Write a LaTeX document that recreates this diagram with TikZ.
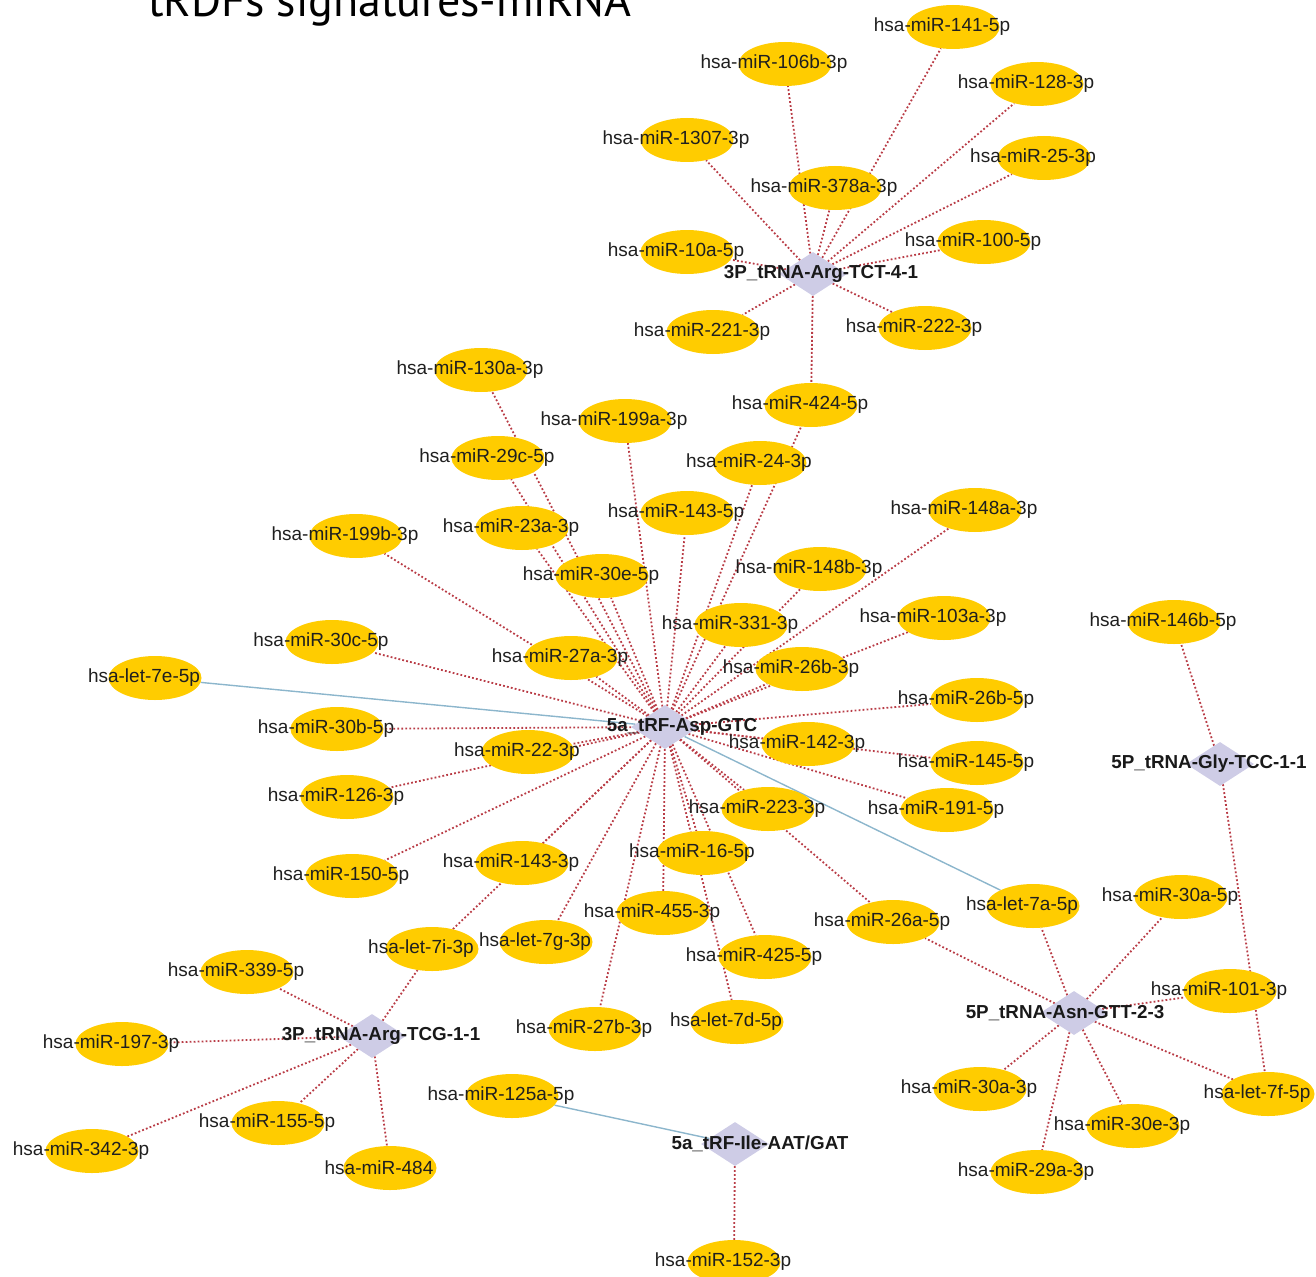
\documentclass[tikz,border=0pt]{standalone}
\usepackage{fontspec}
\setmainfont{Liberation Sans}
\newfontfamily\titlefont{PT Sans}
\usetikzlibrary{shapes.geometric,backgrounds}
\definecolor{miryel}{RGB}{255,204,0}
\definecolor{hubcol}{RGB}{206,204,230}
\definecolor{dotred}{RGB}{185,60,70}
\definecolor{bluel}{RGB}{140,182,204}
\tikzset{
 mir/.style={ellipse, fill=miryel, draw=none, minimum width=93pt, minimum height=44pt, inner sep=0pt, label={[mirlbl]center:#1}},
 mirlbl/.style={xshift=-11pt, font=\fontsize{19}{21}\selectfont, text=black!88, inner sep=0pt},
 hub/.style={diamond, fill=hubcol, draw=none, minimum width=68pt, minimum height=44pt, inner sep=0pt},
 hublbl/.style={font=\bfseries\fontsize{18.8}{21}\selectfont, text=black!90, inner sep=0pt},
 rd/.style={draw=dotred, line width=1.8pt, dash pattern=on 1.8pt off 2.2pt},
 bl/.style={draw=bluel, line width=1.4pt},
}
\begin{document}
\begin{tikzpicture}[x=1pt,y=-1pt]
\useasboundingbox (0,0) rectangle (1316,1276);
\node[anchor=base west, font=\titlefont\fontsize{46}{50}\selectfont, inner sep=0pt] (title) at (148,17) {tRDFs signatures-miRNA};
% hubs
\node[hub, label={[hublbl,xshift=8pt]center:3P\_tRNA-Arg-TCT-4-1}] (tct) at (813,274) {};
\node[hub, label={[hublbl,xshift=17pt]center:5a\_tRF-Asp-GTC}] (asp) at (665,727) {};
\node[hub, label={[hublbl,xshift=-11pt]center:5P\_tRNA-Gly-TCC-1-1}] (gly) at (1220,764) {};
\node[hub, label={[hublbl,xshift=-9pt]center:5P\_tRNA-Asn-GTT-2-3}] (asn) at (1074,1013) {};
\node[hub, label={[hublbl,xshift=9pt]center:3P\_tRNA-Arg-TCG-1-1}] (tcg) at (372,1036) {};
\node[hub, label={[hublbl,xshift=25pt]center:5a\_tRF-Ile-AAT/GAT}] (ile) at (735,1144) {};
% miRNAs
\node[mir=hsa-miR-141-5p] (m141) at (953,27) {};
\node[mir=hsa-miR-106b-3p] (m106b) at (785,64) {};
\node[mir=hsa-miR-128-3p] (m128) at (1037,84) {};
\node[mir=hsa-miR-1307-3p] (m1307) at (687,140) {};
\node[mir=hsa-miR-25-3p] (m25) at (1044,158) {};
\node[mir=hsa-miR-378a-3p] (m378a) at (835,188) {};
\node[mir=hsa-miR-100-5p] (m100) at (984,242) {};
\node[mir=hsa-miR-10a-5p] (m10a) at (687,252) {};
\node[mir=hsa-miR-221-3p] (m221) at (713,332) {};
\node[mir=hsa-miR-222-3p] (m222) at (925,328) {};
\node[mir=hsa-miR-130a-3p] (m130a) at (481,370) {};
\node[mir=hsa-miR-424-5p] (m424) at (811,405) {};
\node[mir=hsa-miR-199a-3p] (m199a) at (625,421) {};
\node[mir=hsa-miR-29c-5p] (m29c) at (498,458) {};
\node[mir=hsa-miR-24-3p] (m24) at (760,463) {};
\node[mir=hsa-miR-148a-3p] (m148a) at (975,510) {};
\node[mir=hsa-miR-143-5p] (m143f) at (687,513) {};
\node[mir=hsa-miR-23a-3p] (m23a) at (522,528) {};
\node[mir=hsa-miR-199b-3p] (m199b) at (356,536) {};
\node[mir=hsa-miR-148b-3p] (m148b) at (820,569) {};
\node[mir=hsa-miR-30e-5p] (m30ef) at (602,576) {};
\node[mir=hsa-miR-103a-3p] (m103a) at (944,618) {};
\node[mir=hsa-miR-146b-5p] (m146b) at (1174,622) {};
\node[mir=hsa-miR-331-3p] (m331) at (741,625) {};
\node[mir=hsa-miR-30c-5p] (m30c) at (332,642) {};
\node[mir=hsa-miR-27a-3p] (m27a) at (571,658) {};
\node[mir=hsa-miR-26b-3p] (m26bt) at (802,669) {};
\node[mir=hsa-let-7e-5p] (let7e) at (155,678) {};
\node[mir=hsa-miR-26b-5p] (m26bf) at (977,700) {};
\node[mir=hsa-miR-30b-5p] (m30b) at (337,729) {};
\node[mir=hsa-miR-142-3p] (m142) at (808,744) {};
\node[mir=hsa-miR-22-3p] (m22) at (528,752) {};
\node[mir=hsa-miR-145-5p] (m145) at (977,763) {};
\node[mir=hsa-miR-126-3p] (m126) at (347,797) {};
\node[mir=hsa-miR-223-3p] (m223) at (768,809) {};
\node[mir=hsa-miR-191-5p] (m191) at (947,810) {};
\node[mir=hsa-miR-16-5p] (m16) at (703,853) {};
\node[mir=hsa-miR-143-3p] (m143t) at (522,863) {};
\node[mir=hsa-miR-150-5p] (m150) at (352,876) {};
\node[mir=hsa-miR-30a-5p] (m30af) at (1181,897) {};
\node[mir=hsa-let-7a-5p] (let7a) at (1033,906) {};
\node[mir=hsa-miR-455-3p] (m455) at (663,913) {};
\node[mir=hsa-miR-26a-5p] (m26a) at (893,922) {};
\node[mir=hsa-let-7g-3p] (let7g) at (546,942) {};
\node[mir=hsa-let-7i-3p] (let7i) at (432,949) {};
\node[mir=hsa-miR-425-5p] (m425) at (765,957) {};
\node[mir=hsa-miR-339-5p] (m339) at (247,972) {};
\node[mir=hsa-miR-101-3p] (m101) at (1230,991) {};
\node[mir=hsa-let-7d-5p] (let7d) at (737,1022) {};
\node[mir=hsa-miR-27b-3p] (m27b) at (595,1029) {};
\node[mir=hsa-miR-197-3p] (m197) at (122,1044) {};
\node[mir=hsa-miR-30a-3p] (m30at) at (980,1089) {};
\node[mir=hsa-let-7f-5p] (let7f) at (1268,1094) {};
\node[mir=hsa-miR-125a-5p] (m125a) at (512,1096) {};
\node[mir=hsa-miR-155-5p] (m155) at (278,1123) {};
\node[mir=hsa-miR-30e-3p] (m30et) at (1133,1126) {};
\node[mir=hsa-miR-342-3p] (m342) at (92,1151) {};
\node[mir=hsa-miR-484] (m484) at (390,1168) {};
\node[mir=hsa-miR-29a-3p] (m29a) at (1037,1172) {};
\node[mir=hsa-miR-152-3p] (m152) at (734,1262) {};
\begin{pgfonlayer}{background}
\foreach \m in {m141,m106b,m128,m1307,m25,m378a,m100,m10a,m221,m222,m424}
  \draw[rd] (tct) -- (\m);
\foreach \m in {m130a,m199a,m424,m29c,m24,m143f,m23a,m199b,m148a,m30ef,m148b,m331,m103a,m30c,m27a,m26bt,m26bf,m30b,m142,m145,m22,m126,m191,m223,m143t,m16,m150,m455,let7i,let7g,m425,let7d,m27b,m26a}
  \draw[rd] (asp) -- (\m);
\draw[bl] (asp) -- (let7e);
\draw[bl] (asp) -- (let7a);
\foreach \m in {m146b,let7f}
  \draw[rd] (gly) -- (\m);
\foreach \m in {let7a,m30af,m26a,m101,let7f,m30at,m29a,m30et}
  \draw[rd] (asn) -- (\m);
\foreach \m in {m339,let7i,m197,m342,m155,m484}
  \draw[rd] (tcg) -- (\m);
\draw[bl] (ile) -- (m125a);
\draw[rd] (ile) -- (m152);
\end{pgfonlayer}
\end{tikzpicture}
\end{document}
